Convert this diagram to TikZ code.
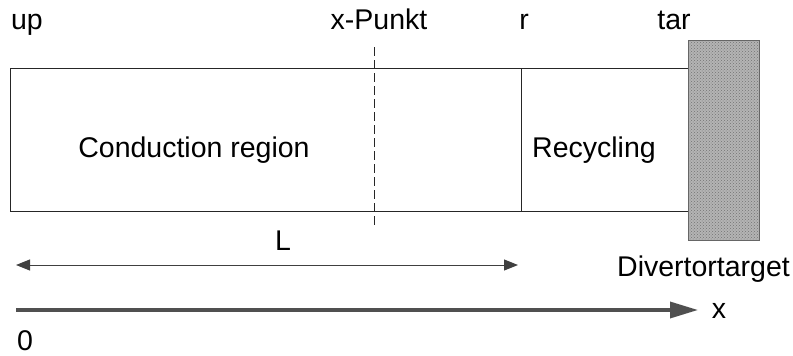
\documentclass[tikz,border=0pt]{standalone}
\usepackage{fontspec}
\setmainfont{Liberation Sans}
\usetikzlibrary{arrows.meta,patterns}
\definecolor{axisgray}{HTML}{505050}
\definecolor{targetgray}{HTML}{B4B4B4}
\begin{document}
\begin{tikzpicture}[x=1pt,y=-1pt,
  lbl/.style={anchor=base,inner sep=0pt,font=\fontsize{28.5}{30}\selectfont},
  thinline/.style={line width=1pt,black!85},
  dimarrow/.style={line width=1pt,black!75,{Triangle[length=14pt,width=11pt]}-{Triangle[length=14pt,width=11pt]}},
  axisarrow/.style={line width=3.4pt,axisgray,-{Triangle[length=28pt,width=16pt]}}]
\useasboundingbox (0,0) rectangle (793,356);
% channel box
\coordinate (boxNW) at (10,68);
\coordinate (boxSE) at (688,211);
\draw[thinline] (boxNW) rectangle (boxSE);
% x-point dashed line
\coordinate (xpTop) at (374,47);
\coordinate (xpBot) at (374,228);
\draw[line width=1pt,black!85,dash pattern=on 9pt off 4pt] (xpTop) -- (xpBot);
% recycling boundary
\coordinate (rTop) at (521,68);
\coordinate (rBot) at (521,211);
\draw[thinline] (rTop) -- (rBot);
% divertor target
\coordinate (tgNW) at (688,40);
\coordinate (tgSE) at (759,240);
\fill[targetgray] (tgNW) rectangle (tgSE);
\fill[pattern=crosshatch dots,pattern color=black!55] (tgNW) rectangle (tgSE);
\draw[line width=0.8pt,black!60] (tgNW) rectangle (tgSE);
% labels
\node[lbl] (up) at (27,29) {up};
\node[lbl] (xp) at (379,29) {x-Punkt};
\node[lbl] (r) at (524,29) {r};
\node[lbl] (tar) at (674,29) {tar};
\node[lbl] (cond) at (194,157) {Conduction region};
\node[lbl] (rec) at (594,157) {Recycling};
\node[lbl] (L) at (283,250) {L};
\node[lbl,anchor=base west] (div) at (617,276) {Divertortarget};
\node[lbl] (xlab) at (719,318) {x};
\node[lbl] (zero) at (25,350) {0};
% L dimension arrow
\coordinate (Lstart) at (16,265);
\coordinate (Lend) at (518,265);
\draw[dimarrow] (Lstart) -- (Lend);
% x axis
\coordinate (axStart) at (16,310);
\coordinate (axEnd) at (698,310);
\draw[axisarrow] (axStart) -- (axEnd);
\end{tikzpicture}
\end{document}
